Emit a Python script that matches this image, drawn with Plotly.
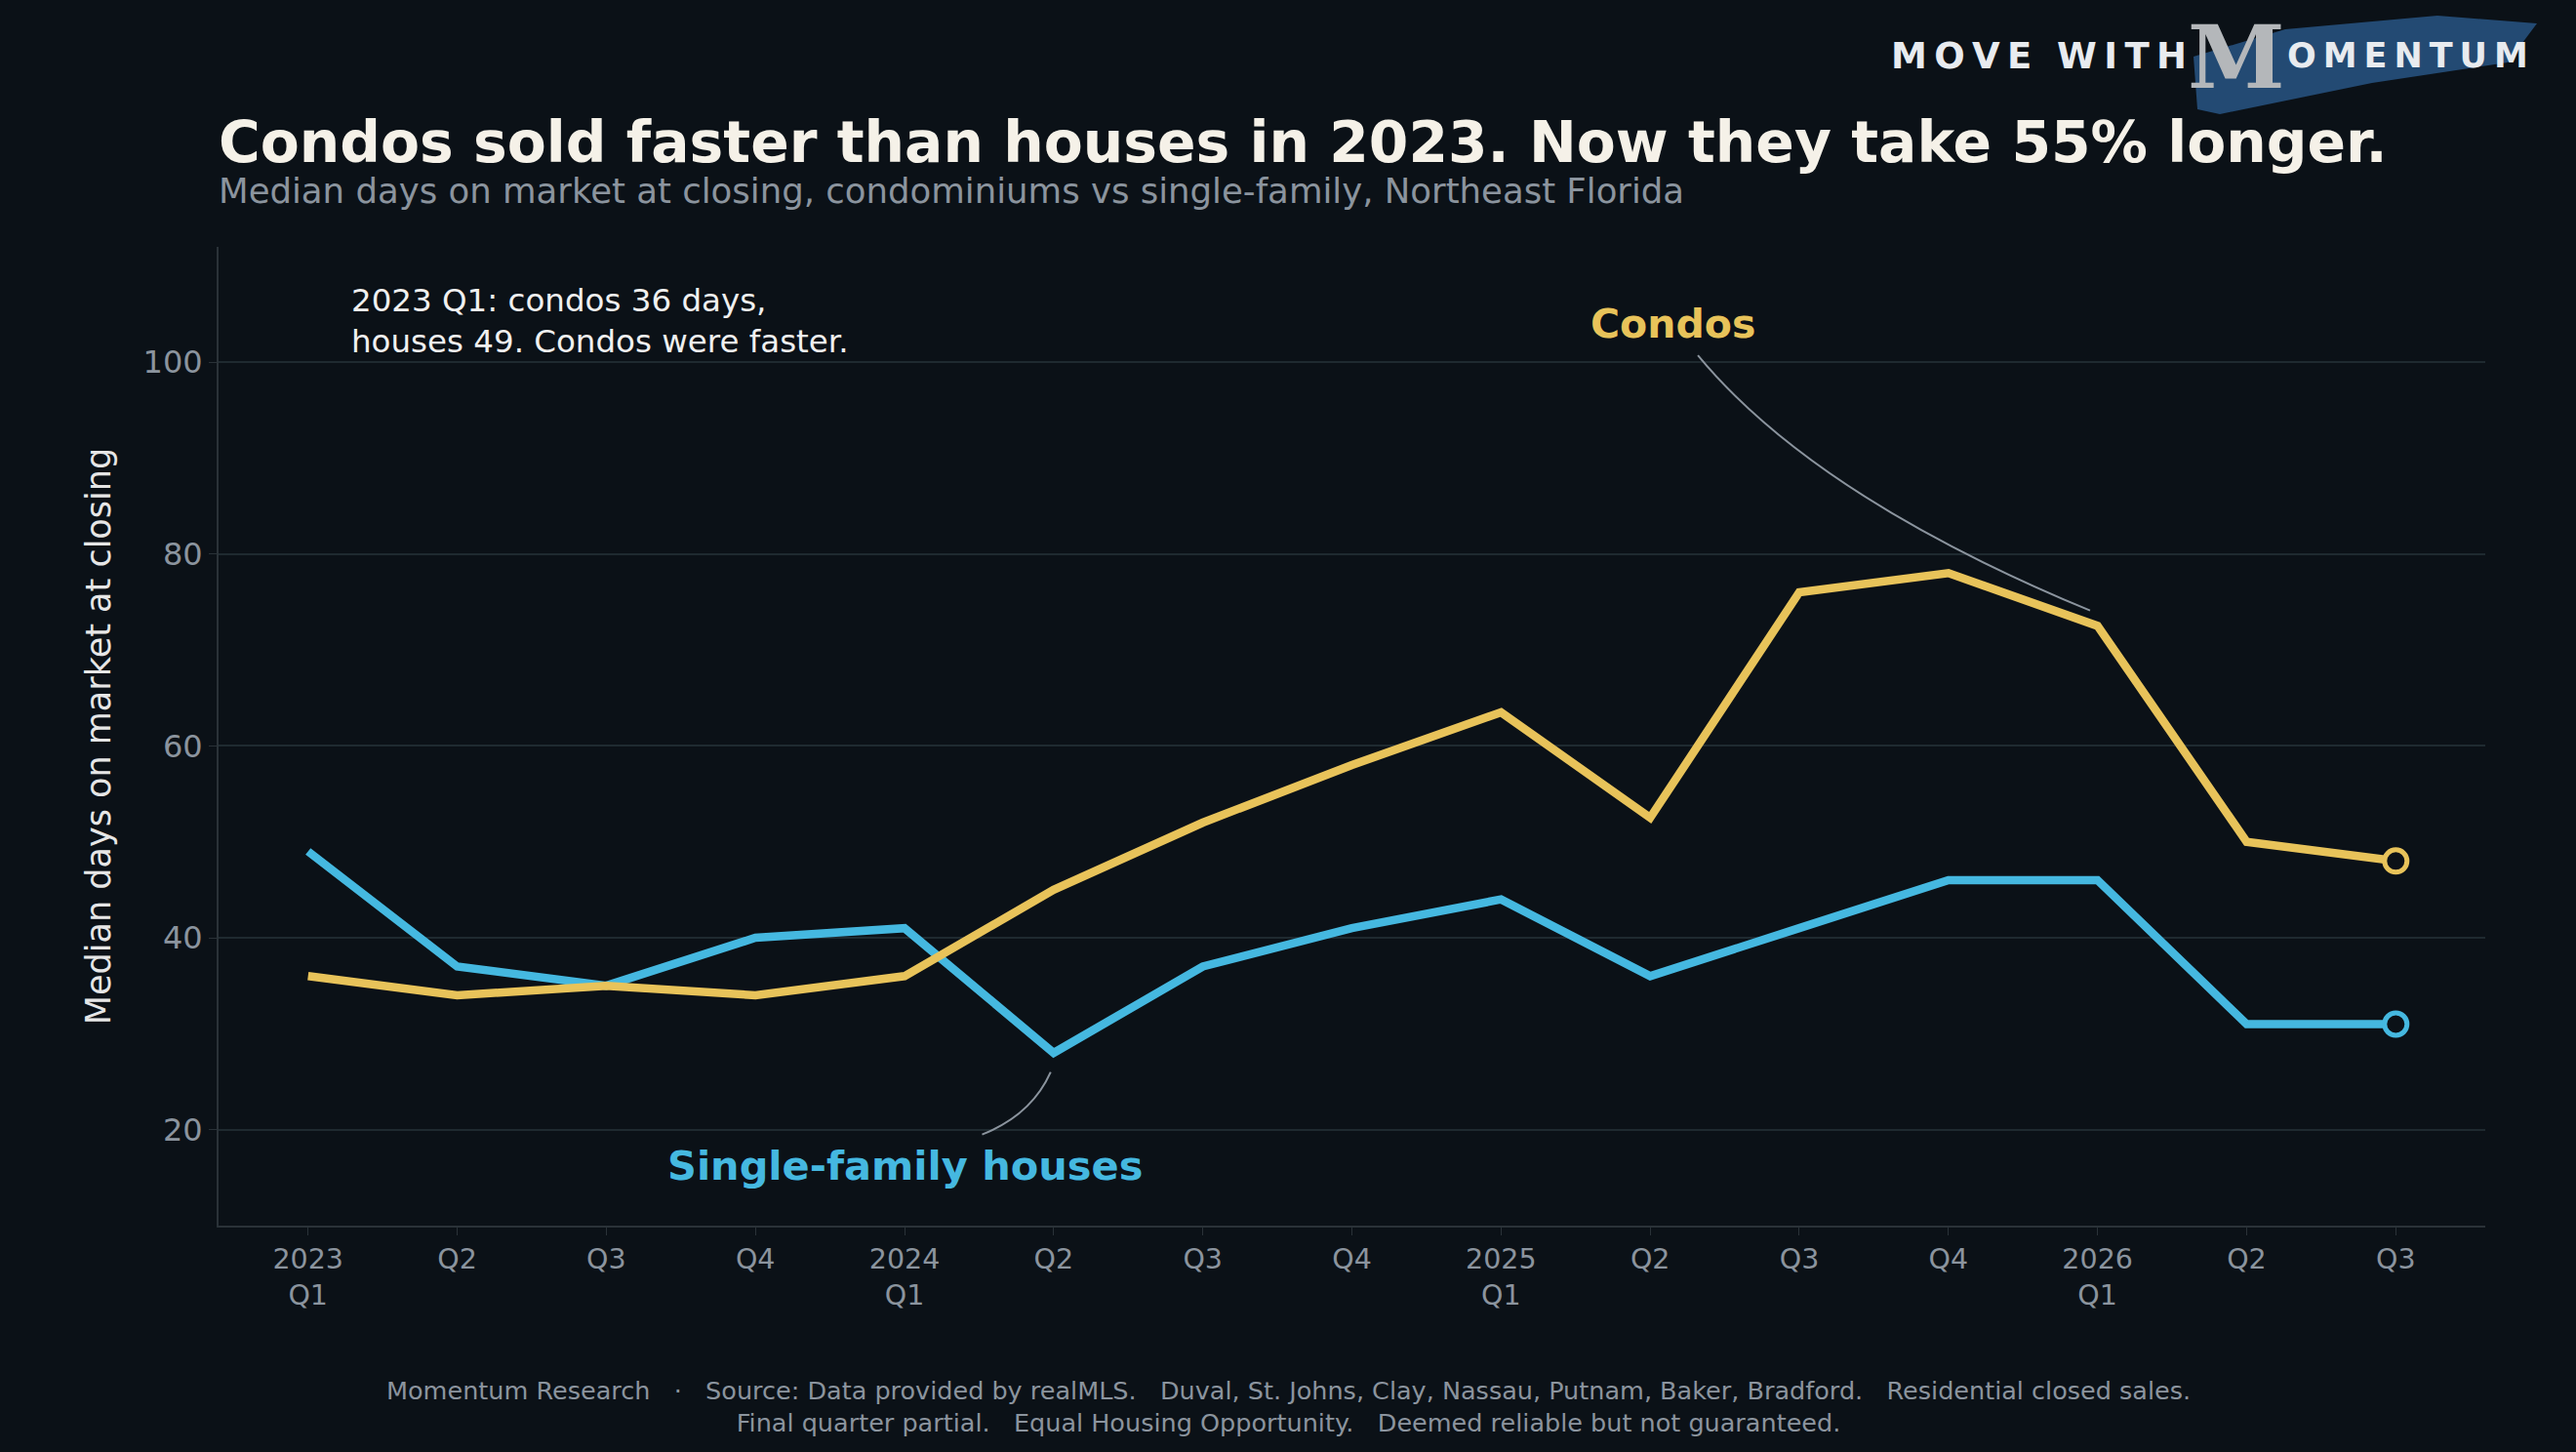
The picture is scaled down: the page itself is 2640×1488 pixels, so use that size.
import plotly.graph_objects as go

quarters = ["2023<br>Q1", "Q2", "Q3", "Q4", "2024<br>Q1", "Q2", "Q3", "Q4",
            "2025<br>Q1", "Q2", "Q3", "Q4", "2026<br>Q1", "Q2", "Q3"]
condos = [36, 34, 35, 34, 36, 45, 52, 58, 63.5, 52.5, 76, 78, 72.5, 50, 48]
houses = [49, 37, 35, 40, 41, 28, 37, 41, 44, 36, 41, 46, 46, 31, 31]
yticks = [20, 40, 60, 80, 100]

W, H = 2640, 1488
L, R, T, B = 224, 93, 253, 232
pw, ph = W - L - R, H - T - B

def px(x):
    return (x - L) / pw

def py(y):
    return (H - B - y) / ph

BG = "#0b1117"
GOLD = "#e8c35a"
BLUE = "#45b8e0"
MUTED = "#8b949e"
FONT = "DejaVu Sans"
TS = "\u2009"

xs = list(range(len(quarters)))
fig = go.Figure()
for vals, col, name in [(houses, BLUE, "Single-family houses"), (condos, GOLD, "Condos")]:
    fig.add_trace(go.Scatter(x=xs, y=vals, mode="lines", line=dict(color=col, width=8.5),
                             name=name, hoverinfo="skip"))
    fig.add_trace(go.Scatter(x=[xs[-1]], y=[vals[-1]], mode="markers",
                             marker=dict(size=23, color=BG, line=dict(color=col, width=5)),
                             hoverinfo="skip"))

# leader curves
fig.add_shape(type="path", xref="x", yref="y", path="M 9.32,100.7 Q 10.1,86 11.95,74.1",
              line=dict(color=MUTED, width=2))
fig.add_shape(type="path", xref="x", yref="y", path="M 4.52,19.5 Q 4.85,21.5 4.98,26",
              line=dict(color=MUTED, width=2))

ann = [
    dict(x=9.15, y=104, xref="x", yref="y", xanchor="center", text="<b>Condos</b>",
         font=dict(size=41, color=GOLD)),
    dict(x=4.0, y=16.3, xref="x", yref="y", xanchor="center", text="<b>Single-family houses</b>",
         font=dict(size=41.5, color=BLUE)),
    dict(x=px(358), y=py(329), xref="paper", yref="paper", xanchor="left",
         text="2023 Q1: condos 36 days,<br>houses 49. Condos were faster.", align="left",
         font=dict(size=32.5, color="#f0f0f0")),
    dict(x=px(222), y=py(146), xref="paper", yref="paper", xanchor="left",
         text="<b>Condos sold faster than houses in 2023. Now they take 55% longer.</b>",
         font=dict(size=58.3, color="#f5f1e8")),
    dict(x=px(222), y=py(195), xref="paper", yref="paper", xanchor="left",
         text="Median days on market at closing, condominiums vs single-family, Northeast Florida",
         font=dict(size=35.5, color=MUTED)),
    dict(x=px(1320), y=py(1441), xref="paper", yref="paper", xanchor="center",
         text="Momentum Research   ·   Source: Data provided by realMLS.   Duval, St. Johns, Clay, Nassau, Putnam, Baker, Bradford.   Residential closed sales.<br>Final quarter partial.   Equal Housing Opportunity.   Deemed reliable but not guaranteed.",
         font=dict(size=25.5, color=MUTED), align="center"),
    dict(x=px(2243), y=py(57), xref="paper", yref="paper", xanchor="right",
         text=TS.join("MOVE") + "  " + TS.join("WITH"), font=dict(size=37, color="#e8ebef", weight=600)),
    dict(x=px(2292), y=py(58), xref="paper", yref="paper", xanchor="center",
         text="<b>M</b>", font=dict(size=90, color="#b4b7ba", family="DejaVu Serif")),
    dict(x=px(2342), y=py(57), xref="paper", yref="paper", xanchor="left",
         text=TS.join("OMENTUM"), font=dict(size=35, color="#e8ebef", weight=600)),
]
for a in ann:
    a.setdefault("showarrow", False)
    a.setdefault("yanchor", "middle")
    fig.add_annotation(**a)

# logo brush stroke
fig.add_shape(type="path", xref="paper", yref="paper", layer="below", line=dict(width=0),
              fillcolor="#234a73",
              path=f"M {px(2248)},{py(58)} L {px(2342)},{py(30)} L {px(2498)},{py(16)} "
                   f"L {px(2600)},{py(24)} L {px(2570)},{py(64)} L {px(2431)},{py(85)} "
                   f"L {px(2275)},{py(117)} L {px(2252)},{py(112)} Z")

fig.update_layout(
    width=W, height=H, paper_bgcolor=BG, plot_bgcolor=BG, showlegend=False,
    margin=dict(l=L, r=R, t=T, b=B), font=dict(family=FONT, color=MUTED),
    xaxis=dict(range=[-0.6, 14.6], tickvals=xs, ticktext=quarters, showgrid=False,
               showline=True, linecolor="#2a3238", linewidth=2, ticks="outside",
               tickcolor="#2a3238", ticklen=8, tickfont=dict(size=28.5, color=MUTED), zeroline=False),
    yaxis=dict(range=[10, 112], tickvals=yticks, gridcolor="#1f2a30", gridwidth=2,
               showline=True, linecolor="#2a3238", linewidth=2, ticks="outside",
               tickcolor="#2a3238", ticklen=8, tickfont=dict(size=32, color=MUTED), zeroline=False,
               title=dict(text="Median days on market at closing", font=dict(size=35, color="#e6e6e6"),
                          standoff=22)),
)
fig.write_html("out.html", config={"displayModeBar": False},
               post_script="document.body.style.margin='0';document.body.style.background='#0b1117';")
